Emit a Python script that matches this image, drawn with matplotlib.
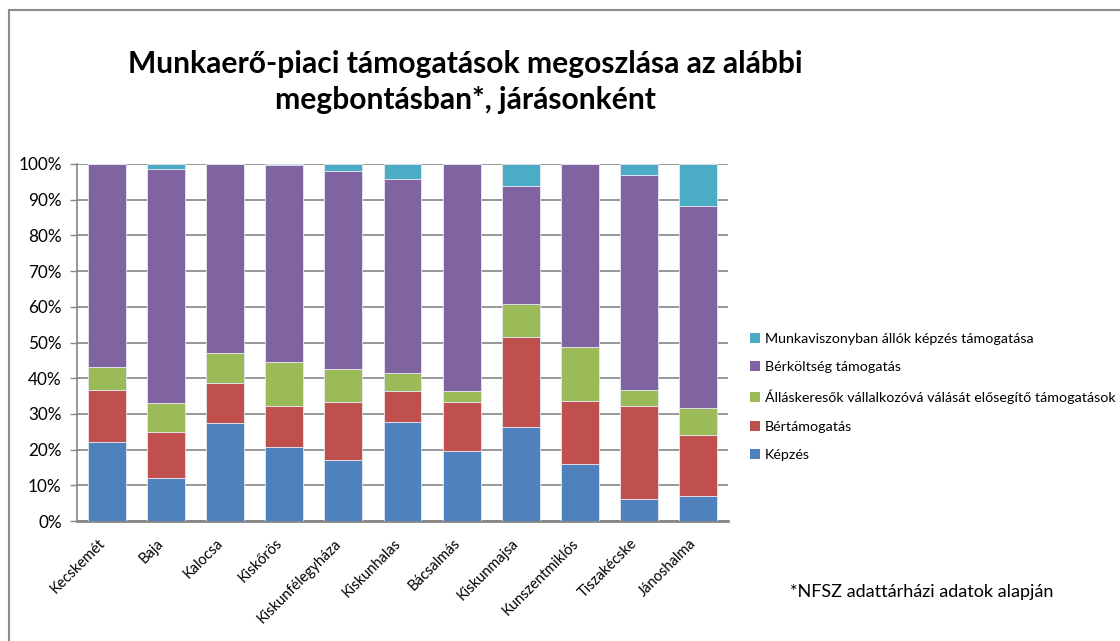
import matplotlib
matplotlib.use("Agg")
import matplotlib.pyplot as plt
import matplotlib.transforms as mtransforms
import numpy as np
from matplotlib.lines import Line2D
from matplotlib.patches import Patch

plt.rcParams['font.family'] = ['Lato', 'DejaVu Sans']

categories = ["Kecskemét", "Baja", "Kalocsa", "Kiskőrös", "Kiskunfélegyháza",
              "Kiskunhalas", "Bácsalmás", "Kiskunmajsa", "Kunszentmiklós",
              "Tiszakécske", "Jánoshalma"]

kepzes = [22.0, 12.1, 27.5, 20.6, 17.0, 27.8, 19.7, 26.3, 15.9, 6.3, 6.9]
bertamogatas = [14.7, 12.9, 11.2, 11.6, 16.2, 8.7, 13.5, 25.2, 17.8, 26.0, 17.3]
vallalkozo = [6.3, 8.1, 8.4, 12.3, 9.5, 4.9, 3.3, 9.4, 14.9, 4.4, 7.5]
berkoltseg = [57.0, 65.4, 52.9, 55.2, 55.2, 54.5, 63.5, 33.0, 51.4, 60.1, 56.6]
munkaviszony = [0.0, 1.5, 0.0, 0.3, 2.1, 4.1, 0.0, 6.1, 0.0, 3.2, 11.7]

series = [
    ("Képzés", kepzes, "#4F81BD"),
    ("Bértámogatás", bertamogatas, "#C0504D"),
    ("Álláskeresők vállalkozóvá válását elősegítő támogatások", vallalkozo, "#9BBB59"),
    ("Bérköltség támogatás", berkoltseg, "#8064A2"),
    ("Munkaviszonyban állók képzés támogatása", munkaviszony, "#4BACC6"),
]

W, H = 1120, 641
fig = plt.figure(figsize=(W / 100, H / 100), dpi=100)
fig.patch.set_facecolor("white")

# outer chart border (left and top visible)
fig.add_artist(Line2D([9 / W, 9 / W], [0, 1 - 10 / H], color="#8C8C8C", lw=1.5,
                      transform=fig.transFigure))
fig.add_artist(Line2D([9 / W, 1], [1 - 10 / H, 1 - 10 / H], color="#8C8C8C", lw=1.5,
                      transform=fig.transFigure))

left, right, top, bottom = 77, 728, 164, 521
ax = fig.add_axes([left / W, 1 - bottom / H, (right - left) / W, (bottom - top) / H])

x = np.arange(len(categories))
base = np.zeros(len(categories))
for name, vals, col in series:
    v = np.array(vals) / 100.0
    ax.bar(x, v, bottom=base, width=0.64, color=col, edgecolor="#E6E6F0",
           linewidth=0.6, zorder=3, label=name)
    base = base + v

ax.set_xlim(-0.5, len(categories) - 0.5)
ax.set_ylim(0, 1)
ticks = np.arange(0, 1.01, 0.1)
ax.set_yticks(ticks)
ax.set_yticklabels([f"{int(round(t * 100))}%" for t in ticks], fontsize=12.3)
ax.yaxis.grid(True, color="#868686", linewidth=1.2, zorder=0)
ax.set_axisbelow(True)
for s in ["top", "right"]:
    ax.spines[s].set_visible(False)
ax.spines["left"].set_color("#868686")
ax.spines["left"].set_linewidth(1.2)
ax.spines["bottom"].set_color("#868686")
ax.spines["bottom"].set_linewidth(2.0)
ax.tick_params(axis="y", length=5, color="#868686", width=1.0, pad=6)
ax.tick_params(axis="x", length=0, pad=11)
ax.set_xticks(x)
ax.set_xticklabels(categories, rotation=45, ha="right", rotation_mode="anchor",
                   fontsize=10.5)
offset = mtransforms.ScaledTranslation(-9 / 100, 0, fig.dpi_scale_trans)
for lbl in ax.get_xticklabels():
    lbl.set_transform(lbl.get_transform() + offset)

fig.text(465 / W, 1 - 82 / H, "Munkaerő-piaci támogatások megoszlása az alábbi\nmegbontásban*, járásonként",
         ha="center", va="center", fontsize=21.6, fontweight="bold",
         linespacing=1.38)

handles = [Patch(facecolor=c, edgecolor="none") for _, _, c in series[::-1]]
labels = [n for n, _, _ in series[::-1]]
fig.legend(handles, labels, loc="upper left", bbox_to_anchor=(750 / W, 1 - 333 / H),
           frameon=False, fontsize=10.25, handlelength=0.7, handleheight=0.7,
           handletextpad=0.35, labelspacing=1.15, borderaxespad=0, borderpad=0)

fig.text(790 / W, 1 - 592 / H, "*NFSZ adattárházi adatok alapján", ha="left",
         va="center", fontsize=13)

fig.savefig("out.png", dpi=100, facecolor="white")
